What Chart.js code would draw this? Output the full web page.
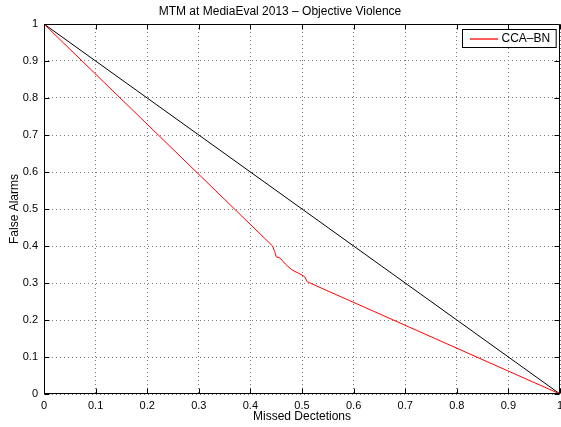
<!DOCTYPE html>
<html>
<head>
<meta charset="utf-8">
<script src="https://cdn.jsdelivr.net/npm/chart.js@4.4.1/dist/chart.umd.min.js"></script>
<style>
  html, body { margin: 0; padding: 0; background: #fff; }
  #wrap { width: 561px; height: 427px; position: relative; }
</style>
</head>
<body>
<div id="wrap"><canvas id="c" width="561" height="427"></canvas></div>
<script>
// ---- Data ----
const chartTitle = "MTM at MediaEval 2013 \u2013 Objective Violence";
const xAxisTitle = "Missed Dectetions";
const yAxisTitle = "False Alarms";
const seriesLabel = "CCA\u2013BN";

// CCA-BN DET curve: missed detections (x) vs false alarms (y)
const ccaMissed = [0, 0.443, 0.447, 0.450, 0.458, 0.468, 0.481, 0.494, 0.505, 0.510, 0.517, 1];
const ccaFalse  = [1, 0.400, 0.385, 0.371, 0.367, 0.351, 0.335, 0.326, 0.317, 0.304, 0.299, 0];

// Reference diagonal
const diagMissed = [0, 1];
const diagFalse  = [1, 0];

const tickValues = [0, 0.1, 0.2, 0.3, 0.4, 0.5, 0.6, 0.7, 0.8, 0.9, 1];
const tickLabels = ['0', '0.1', '0.2', '0.3', '0.4', '0.5', '0.6', '0.7', '0.8', '0.9', '1'];

const RED = 'rgb(255,0,0)';
const BLACK = 'rgb(0,0,0)';

const toPoints = (xs, ys) => xs.map((x, i) => ({ x: x, y: ys[i] }));
const labelFor = v => {
  const i = tickValues.findIndex(t => Math.abs(t - v) < 1e-9);
  return i >= 0 ? tickLabels[i] : '';
};

const FONT = "'Liberation Sans', Arial, Helvetica, sans-serif";

// Plugin: MATLAB-style box, inward ticks on all sides, legend box
const matlabBox = {
  id: 'matlabBox',
  afterDatasetsDraw(chart) {
    const ctx = chart.ctx;
    const a = chart.chartArea;
    const xs = chart.scales.x, ys = chart.scales.y;
    ctx.save();
    ctx.setLineDash([]);
    ctx.strokeStyle = BLACK;
    ctx.lineWidth = 1;
    const L = Math.round(a.left) + 0.5, R = Math.round(a.right) - 0.5;
    const T = Math.round(a.top) + 0.5, B = Math.round(a.bottom) - 0.5;
    ctx.beginPath();
    ctx.rect(L, T, R - L, B - T);
    ctx.stroke();
    const tl = 5;
    ctx.beginPath();
    tickValues.forEach(v => {
      const px = Math.round(xs.getPixelForValue(v)) + 0.5;
      ctx.moveTo(px, B); ctx.lineTo(px, B - tl);
      ctx.moveTo(px, T); ctx.lineTo(px, T + tl);
      const py = Math.round(ys.getPixelForValue(v)) + 0.5;
      ctx.moveTo(L, py); ctx.lineTo(L + tl, py);
      ctx.moveTo(R, py); ctx.lineTo(R - tl, py);
    });
    ctx.stroke();

    // Legend box (top-right inside axes)
    ctx.font = '12px ' + FONT;
    const tw = ctx.measureText(seriesLabel).width;
    const bw = 8 + 28 + 4 + tw + 5;
    const bh = 18;
    const bx = Math.round(R - 4 - bw) + 0.5;
    const by = Math.round(T + 4) + 0.5;
    ctx.fillStyle = '#ffffff';
    ctx.fillRect(bx, by, bw, bh);
    ctx.strokeStyle = BLACK;
    ctx.strokeRect(bx, by, bw, bh);
    // legend sample line in the series colour
    const ly = Math.round(by + bh / 2);
    ctx.strokeStyle = RED;
    ctx.lineWidth = 1.3;
    ctx.beginPath();
    ctx.moveTo(Math.round(bx + 7), ly);
    ctx.lineTo(Math.round(bx + 35), ly);
    ctx.stroke();
    ctx.fillStyle = BLACK;
    ctx.textBaseline = 'middle';
    ctx.textAlign = 'left';
    ctx.fillText(seriesLabel, bx + 39, by + bh / 2 + 0.5);
    ctx.restore();
  }
};

new Chart(document.getElementById('c'), {
  type: 'scatter',
  data: {
    datasets: [
      {
        label: seriesLabel,
        data: toPoints(ccaMissed, ccaFalse),
        showLine: true,
        borderColor: RED,
        backgroundColor: RED,
        borderWidth: 1,
        pointRadius: 0,
        tension: 0
      },
      {
        label: 'diagonal',
        data: toPoints(diagMissed, diagFalse),
        showLine: true,
        borderColor: BLACK,
        backgroundColor: BLACK,
        borderWidth: 1,
        pointRadius: 0,
        tension: 0
      }
    ]
  },
  options: {
    responsive: false,
    animation: false,
    devicePixelRatio: 1,
    layout: { padding: { top: 0, right: 1, bottom: 0, left: 0 } },
    plugins: {
      legend: { display: false },
      tooltip: { enabled: false },
      title: {
        display: true,
        text: chartTitle,
        color: '#000',
        font: { family: FONT, size: 12, weight: 'normal', lineHeight: 1.2 },
        padding: { top: 4, bottom: 5.6 }
      }
    },
    scales: {
      x: {
        type: 'linear',
        min: 0, max: 1,
        afterFit(s) { s.height = 33; s.paddingRight = 0; s.paddingLeft = 0; },
        afterBuildTicks(s) { s.ticks = tickValues.map(v => ({ value: v })); },
        ticks: {
          autoSkip: false,
          maxRotation: 0,
          padding: 5,
          color: '#000',
          font: { family: FONT, size: 11 },
          callback: v => labelFor(v)
        },
        grid: {
          drawTicks: false,
          color: '#7a7a7a',
          lineWidth: 1
        },
        border: { display: false, dash: [1, 3] },
        title: {
          display: true,
          text: xAxisTitle,
          color: '#000',
          font: { family: FONT, size: 12, lineHeight: 1.2 },
          padding: { top: 0, bottom: 3 }
        }
      },
      y: {
        type: 'linear',
        min: 0, max: 1,
        afterFit(s) { s.width = 44; s.paddingTop = 0; s.paddingBottom = 0; },
        afterBuildTicks(s) { s.ticks = tickValues.map(v => ({ value: v })); },
        ticks: {
          autoSkip: false,
          padding: 6,
          color: '#000',
          font: { family: FONT, size: 11 },
          callback: v => labelFor(v)
        },
        grid: {
          drawTicks: false,
          color: '#7a7a7a',
          lineWidth: 1
        },
        border: { display: false, dash: [1, 3] },
        title: {
          display: true,
          text: yAxisTitle,
          color: '#000',
          font: { family: FONT, size: 12, lineHeight: 1.2 },
          padding: { top: 7, bottom: 0 }
        }
      }
    }
  },
  plugins: [matlabBox]
});
</script>
</body>
</html>
